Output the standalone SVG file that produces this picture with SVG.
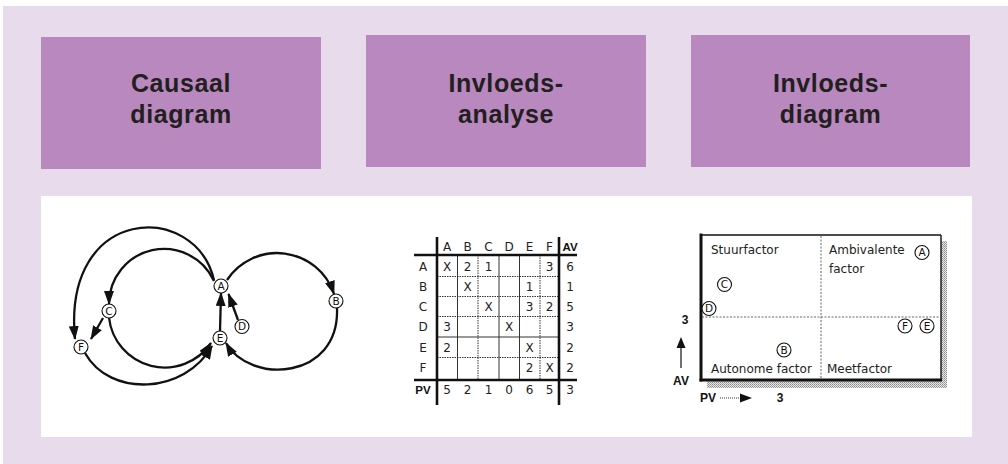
<svg xmlns="http://www.w3.org/2000/svg" width="1008" height="464" viewBox="0 0 1008 464">
<defs>
<style>
.hdr{fill:#b888be}
.ht{font-family:"Liberation Sans",Arial,sans-serif;font-weight:bold;font-size:25px;letter-spacing:0.6px;fill:#231f20;text-anchor:middle}
.cl{fill:none;stroke:#111;stroke-width:2.3}
.nd{fill:#fff;stroke:#111;stroke-width:1.1}
.nt{font-family:"DejaVu Sans",sans-serif;font-size:10.5px;fill:#111;text-anchor:middle}
.mt{font-family:"DejaVu Sans",sans-serif;font-size:12px;fill:#222;text-anchor:middle}
.mb{font-family:"Liberation Sans",Arial,sans-serif;font-weight:bold;font-size:11.5px;fill:#111;text-anchor:middle}
.thk{stroke:#111;stroke-width:2.6}
.ts{stroke:#333;stroke-width:1}
.td{stroke:#333;stroke-width:1;stroke-dasharray:1.5 1}
.qt{font-family:"DejaVu Sans",sans-serif;font-size:12px;fill:#222}
.dv{stroke:#555;stroke-width:0.9;stroke-dasharray:2 1.5}
.ax{font-family:"Liberation Sans",Arial,sans-serif;font-weight:bold;font-size:12px;fill:#111;text-anchor:middle}
</style>
<marker id="ah" viewBox="0 0 14 10" refX="13" refY="5" markerWidth="14" markerHeight="10" markerUnits="userSpaceOnUse" orient="auto">
<path d="M0,0 L14,5 L0,10 z" fill="#111"/>
</marker>
<pattern id="stip" width="2" height="2" patternUnits="userSpaceOnUse">
<rect width="2" height="2" fill="#e6e6e6"/>
<rect width="1" height="1" fill="#8a8a8a"/>
<rect x="1" y="1" width="1" height="1" fill="#a8a8a8"/>
</pattern>
</defs>
<rect x="0" y="0" width="1008" height="464" fill="#fff"/>
<rect x="3" y="6" width="1005" height="458" fill="#e8dbec"/>
<g id="header-causaal">
<rect class="hdr" x="41" y="37" width="280" height="132"/>
<text class="ht" x="181" y="92">Causaal</text>
<text class="ht" x="181" y="123">diagram</text>
</g>
<g id="header-invloedsanalyse">
<rect class="hdr" x="366" y="35" width="280" height="132"/>
<text class="ht" x="506" y="92">Invloeds-</text>
<text class="ht" x="506" y="123">analyse</text>
</g>
<g id="header-invloedsdiagram">
<rect class="hdr" x="691" y="35" width="279" height="132"/>
<text class="ht" x="830.5" y="92">Invloeds-</text>
<text class="ht" x="830.5" y="123">diagram</text>
</g>
<rect x="41" y="196" width="931" height="241" fill="#fff"/>
<g id="connectors">
<path class="cl" d="M214,280 C195,200 62,205 75,339" marker-end="url(#ah)"/>
<path class="cl" d="M214,281 A55,55 0 0 0 109,304" marker-end="url(#ah)"/>
<path class="cl" d="M103,318 L91,339" marker-end="url(#ah)"/>
<path class="cl" d="M109,317.5 A56,56 0 0 0 211,343" marker-end="url(#ah)"/>
<path class="cl" d="M85,353 C110,398 185,394 212,346" marker-end="url(#ah)"/>
<path class="cl" d="M220,331 L221,293" marker-end="url(#ah)"/>
<path class="cl" d="M238,320 L228.5,294" marker-end="url(#ah)"/>
<path class="cl" d="M227,280 A60,60 0 0 1 334,294" marker-end="url(#ah)"/>
<path class="cl" d="M337,308 C340,380 250,385 226,343" marker-end="url(#ah)"/>
</g>
<g id="node-A"><circle class="nd" cx="221" cy="286" r="7"/><text class="nt" x="221" y="289.8">A</text></g>
<g id="node-B"><circle class="nd" cx="336" cy="301" r="7"/><text class="nt" x="336" y="304.8">B</text></g>
<g id="node-C"><circle class="nd" cx="109" cy="311" r="7"/><text class="nt" x="109" y="314.8">C</text></g>
<g id="node-D"><circle class="nd" cx="242" cy="326.5" r="7"/><text class="nt" x="242" y="330.3">D</text></g>
<g id="node-E"><circle class="nd" cx="220" cy="338" r="7"/><text class="nt" x="220" y="341.8">E</text></g>
<g id="node-F"><circle class="nd" cx="81" cy="347" r="7"/><text class="nt" x="81" y="350.8">F</text></g>
<g id="matrix">
<line class="ts" x1="457.5" y1="255" x2="457.5" y2="380"/>
<line class="td" x1="478" y1="255" x2="478" y2="380"/>
<line class="ts" x1="499" y1="255" x2="499" y2="380"/>
<line class="ts" x1="519.5" y1="255" x2="519.5" y2="380"/>
<line class="td" x1="540" y1="255" x2="540" y2="380"/>
<line class="td" x1="437" y1="276.5" x2="559" y2="276.5"/>
<line class="td" x1="437" y1="296.5" x2="559" y2="296.5"/>
<line class="td" x1="437" y1="316.5" x2="559" y2="316.5"/>
<line class="ts" x1="437" y1="337" x2="559" y2="337"/>
<line class="td" x1="437" y1="357.5" x2="559" y2="357.5"/>
<line class="thk" x1="437" y1="237" x2="437" y2="405"/>
<line class="thk" x1="559" y1="237" x2="559" y2="405"/>
<line class="thk" x1="414" y1="255" x2="577" y2="255"/>
<line class="thk" x1="414" y1="380" x2="577" y2="380"/>
<text class="mt" x="447" y="251">A</text>
<text class="mt" x="467.5" y="251">B</text>
<text class="mt" x="488.5" y="251">C</text>
<text class="mt" x="509" y="251">D</text>
<text class="mt" x="529.5" y="251">E</text>
<text class="mt" x="549.5" y="251">F</text>
<text class="mb" x="570" y="251">AV</text>
<text class="mt" x="423" y="271">A</text>
<text class="mt" x="423" y="291">B</text>
<text class="mt" x="423" y="311">C</text>
<text class="mt" x="423" y="331">D</text>
<text class="mt" x="423" y="351.5">E</text>
<text class="mt" x="423" y="372">F</text>
<text class="mb" x="423" y="393.5">PV</text>
<text class="mt" x="447" y="271">X</text>
<text class="mt" x="467.5" y="271">2</text>
<text class="mt" x="488.5" y="271">1</text>
<text class="mt" x="549.5" y="271">3</text>
<text class="mt" x="570" y="271">6</text>
<text class="mt" x="467.5" y="291">X</text>
<text class="mt" x="529.5" y="291">1</text>
<text class="mt" x="570" y="291">1</text>
<text class="mt" x="488.5" y="311">X</text>
<text class="mt" x="529.5" y="311">3</text>
<text class="mt" x="549.5" y="311">2</text>
<text class="mt" x="570" y="311">5</text>
<text class="mt" x="447" y="331">3</text>
<text class="mt" x="509" y="331">X</text>
<text class="mt" x="570" y="331">3</text>
<text class="mt" x="447" y="351.5">2</text>
<text class="mt" x="529.5" y="351.5">X</text>
<text class="mt" x="570" y="351.5">2</text>
<text class="mt" x="529.5" y="372">2</text>
<text class="mt" x="549.5" y="372">X</text>
<text class="mt" x="570" y="372">2</text>
<text class="mt" x="447" y="393.5">5</text>
<text class="mt" x="467.5" y="393.5">2</text>
<text class="mt" x="488.5" y="393.5">1</text>
<text class="mt" x="509" y="393.5">0</text>
<text class="mt" x="529.5" y="393.5">6</text>
<text class="mt" x="549.5" y="393.5">5</text>
<text class="mt" x="570" y="393.5">3</text>
</g>
<g id="influence-diagram">
<rect x="707" y="241" width="240" height="147" fill="url(#stip)"/>
<rect x="701" y="235" width="240" height="145" fill="#fff"/>
<line stroke="#111" stroke-width="1.4" x1="701" y1="235" x2="941" y2="235"/>
<line stroke="#111" stroke-width="1.4" x1="941" y1="235" x2="941" y2="380"/>
<line stroke="#111" stroke-width="3" x1="701" y1="233.5" x2="701" y2="381.5"/>
<line stroke="#111" stroke-width="3" x1="699.5" y1="380" x2="942" y2="380"/>
<line class="dv" x1="821" y1="236" x2="821" y2="379"/>
<line class="dv" x1="702" y1="317" x2="940" y2="317"/>
<text class="qt" x="711" y="254">Stuurfactor</text>
<text class="qt" x="829" y="254">Ambivalente</text>
<text class="qt" x="829" y="273">factor</text>
<text class="qt" x="711" y="373">Autonome factor</text>
<text class="qt" x="827" y="373">Meetfactor</text>
<g id="q-node-A"><circle class="nd" cx="922" cy="252.5" r="7"/><text class="nt" x="922" y="256.3">A</text></g>
<g id="q-node-C"><circle class="nd" cx="724.5" cy="284.5" r="7"/><text class="nt" x="724.5" y="288.3">C</text></g>
<g id="q-node-D"><circle class="nd" cx="709" cy="308.5" r="7"/><text class="nt" x="709" y="312.3">D</text></g>
<g id="q-node-F"><circle class="nd" cx="905" cy="326" r="7"/><text class="nt" x="905" y="329.8">F</text></g>
<g id="q-node-E"><circle class="nd" cx="927" cy="326" r="7"/><text class="nt" x="927" y="329.8">E</text></g>
<g id="q-node-B"><circle class="nd" cx="784" cy="350" r="7"/><text class="nt" x="784" y="353.8">B</text></g>
<text class="ax" x="685" y="324">3</text>
<line stroke="#111" stroke-width="1.2" x1="681" y1="368" x2="681" y2="346"/>
<path d="M681,337 L685.5,348 L676.5,348 z" fill="#111"/>
<text class="ax" x="681" y="385" font-size="11">AV</text>
<text class="ax" x="708" y="402" font-size="11">PV</text>
<line stroke="#333" stroke-width="1" stroke-dasharray="1 1" x1="720" y1="398" x2="740" y2="398"/>
<path d="M752,398 L740,393.5 L740,402.5 z" fill="#111"/>
<text class="ax" x="780" y="402">3</text>
</g>
</svg>
